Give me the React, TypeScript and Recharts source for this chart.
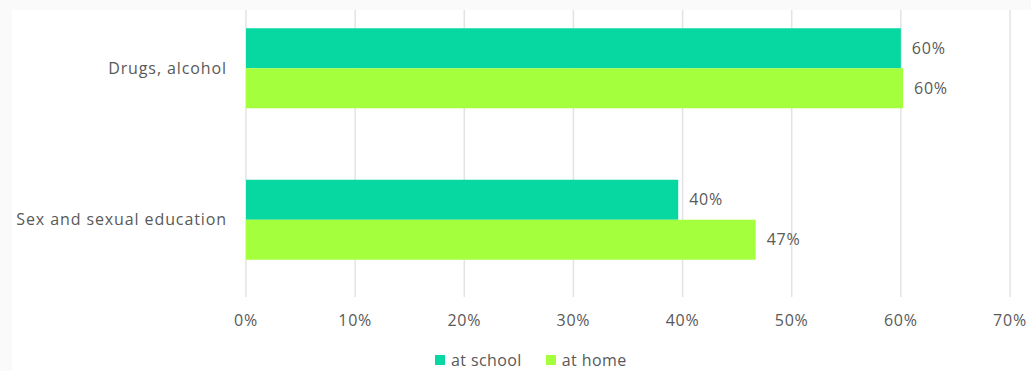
import { Bar, BarChart, CartesianGrid, LabelList, XAxis, YAxis } from "recharts";

const categories = ["Drugs, alcohol", "Sex and sexual education"];
const atSchool = [60.0, 39.6];
const atHome = [60.2, 46.7];
const xTicks = [0, 10, 20, 30, 40, 50, 60, 70];

const SCHOOL = "#07D7A0";
const HOME = "#A4FF3D";
const TEXT = "#595959";
const FONT = "'Open Sans', sans-serif";
const textStyle = { fontSize: 16, fill: TEXT, fontFamily: FONT, letterSpacing: 0.75 };

const rows = categories.map((name, i) => ({
  name,
  school: atSchool[i],
  home: atHome[i],
}));

const legendItems = [
  { label: "at school", color: SCHOOL },
  { label: "at home", color: HOME },
];

function ChartLegend() {
  return (
    <div
      style={{
        position: "absolute",
        left: 435,
        top: 351,
        display: "flex",
        gap: 24,
        fontFamily: FONT,
        fontSize: 16,
        letterSpacing: 0.4,
        lineHeight: "18px",
        color: TEXT,
      }}
    >
      {legendItems.map((it) => (
        <div key={it.label} style={{ display: "flex", alignItems: "center", gap: 6 }}>
          <span style={{ width: 10, height: 10, background: it.color, display: "inline-block" }} />
          <span>{it.label}</span>
        </div>
      ))}
    </div>
  );
}

const pct = (v: any) => `${Math.round(Number(v))}%`;

export default function App() {
  return (
    <div
      style={{
        position: "absolute",
        left: 0,
        top: 0,
        width: 1031,
        height: 371,
        background: "#fafafa",
        overflow: "hidden",
      }}
    >
      <div style={{ position: "absolute", left: 12, top: 10, width: 1019, height: 361, background: "#fff" }}>
        <BarChart
          width={1019}
          height={361}
          data={rows}
          layout="vertical"
          margin={{ top: 0, right: 21, bottom: 34, left: 0 }}
          barGap={0}
        >
          <CartesianGrid horizontal={false} stroke="#e3e3e3" strokeWidth={1.5} />
          <XAxis
            type="number"
            domain={[0, 70]}
            ticks={xTicks}
            tickFormatter={(v) => `${v}%`}
            axisLine={false}
            tickLine={false}
            tickMargin={12}
            height={40}
            tick={textStyle}
          />
          <YAxis
            type="category"
            dataKey="name"
            width={234}
            axisLine={false}
            tickLine={false}
            tickMargin={13}
            padding={{ top: -17.75, bottom: 1.75 }}
            tick={{ ...textStyle, letterSpacing: 0.9 }}
          />
          <Bar dataKey="school" name="at school" fill={SCHOOL} barSize={40} isAnimationActive={false}>
            <LabelList dataKey="school" position="right" offset={11} formatter={pct} style={textStyle} />
          </Bar>
          <Bar dataKey="home" name="at home" fill={HOME} barSize={40} isAnimationActive={false}>
            <LabelList dataKey="home" position="right" offset={11} formatter={pct} style={textStyle} />
          </Bar>
        </BarChart>
      </div>
      <ChartLegend />
    </div>
  );
}
